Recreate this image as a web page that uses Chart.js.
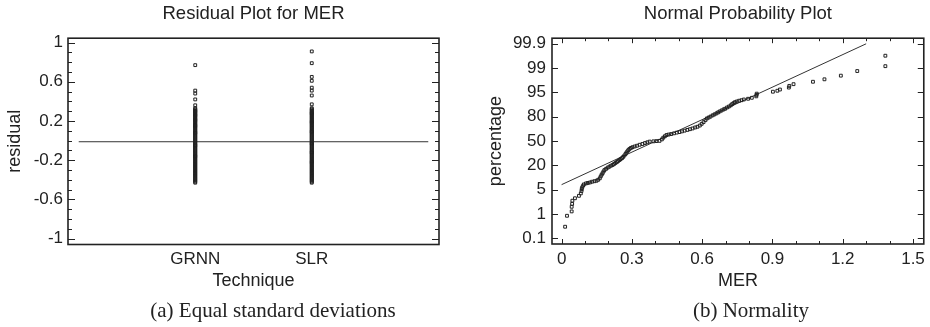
<!DOCTYPE html>
<html lang="en">
<head>
    <meta charset="UTF-8">
    <title>Residual and normal probability plots</title>
    <script src="https://cdn.jsdelivr.net/npm/chart.js"></script>
    <style>
        body {
            margin: 0;
            background-color: #fff;
            width: 930px;
            height: 327px;
            position: relative;
            overflow: hidden;
        }
        canvas {
            position: absolute;
            top: 0;
        }
        #residChart { left: 0; }
        #normChart { left: 465px; }
        .caption {
            position: absolute;
            top: 300px;
            font-family: 'Liberation Serif', 'Times New Roman', serif;
            font-size: 21px;
            line-height: 21px;
            color: #222;
            white-space: nowrap;
            transform: translateX(-50%);
        }
    </style>
</head>
<body>
    <canvas id="residChart" width="465" height="327"></canvas>
    <canvas id="normChart" width="465" height="327"></canvas>
    <div class="caption" style="left: 273px;">(a) Equal standard deviations</div>
    <div class="caption" style="left: 751px;">(b) Normality</div>

    <script>
        // (a) residuals per technique
        const techniques = ['GRNN', 'SLR'];
        const techniquePos = [1, 2];
        const grnnResidual = [0.77, 0.51, 0.48, 0.42, 0.36, 0.33, 0.32, 0.31, 0.30, 0.30, 0.29, 0.28, 0.27, 0.26,
            0.26, 0.25, 0.24, 0.23, 0.22, 0.21, 0.21, 0.20, 0.19, 0.18, 0.17, 0.16, 0.15, 0.15, 0.14, 0.13, 0.12,
            0.11, 0.10, 0.09, 0.08, 0.08, 0.07, 0.06, 0.05, 0.04, 0.03, 0.02, 0.01, 0.00, -0.01, -0.02, -0.03,
            -0.04, -0.05, -0.05, -0.06, -0.07, -0.08, -0.09, -0.10, -0.11, -0.12, -0.13, -0.14, -0.15, -0.16,
            -0.16, -0.17, -0.18, -0.19, -0.20, -0.21, -0.22, -0.23, -0.24, -0.25, -0.26, -0.27, -0.28, -0.29,
            -0.30, -0.31, -0.32, -0.33, -0.34, -0.35, -0.36, -0.37, -0.38, -0.39, -0.40, -0.41, -0.42, -0.43];
        const slrResidual = [0.91, 0.79, 0.65, 0.61, 0.54, 0.51, 0.46, 0.37, 0.33, 0.32, 0.31, 0.30, 0.29, 0.28,
            0.28, 0.27, 0.26, 0.25, 0.24, 0.23, 0.22, 0.21, 0.20, 0.19, 0.19, 0.18, 0.17, 0.16, 0.15, 0.14, 0.13,
            0.12, 0.11, 0.10, 0.09, 0.09, 0.08, 0.07, 0.06, 0.05, 0.04, 0.03, 0.02, 0.01, 0.00, -0.01, -0.02,
            -0.03, -0.03, -0.04, -0.05, -0.06, -0.07, -0.08, -0.09, -0.10, -0.11, -0.12, -0.12, -0.13, -0.14,
            -0.15, -0.16, -0.17, -0.18, -0.19, -0.20, -0.21, -0.22, -0.22, -0.23, -0.24, -0.25, -0.26, -0.27,
            -0.28, -0.29, -0.30, -0.31, -0.32, -0.33, -0.34, -0.35, -0.36, -0.37, -0.38, -0.39, -0.40, -0.41,
            -0.42, -0.43];
        const residLineX = [0, 3];
        const residLineY = -0.012;
        const residTicks = [-1, -0.6, -0.2, 0.2, 0.6, 1];

        // (b) normal probability plot: MER vs position on the probability axis
        const probLabels = ['0.1', '1', '5', '20', '50', '80', '95', '99', '99.9'];
        const merTicks = [0, 0.3, 0.6, 0.9, 1.2, 1.5];
        const merTickLabels = ['0', '0.3', '0.6', '0.9', '1.2', '1.5'];
        const merValues = [0.015, 0.023, 0.043, 0.043, 0.045, 0.046, 0.057, 0.074, 0.082, 0.085, 0.086, 0.088,
            0.092, 0.095, 0.104, 0.112, 0.121, 0.130, 0.140, 0.149, 0.156, 0.163, 0.167, 0.171, 0.175, 0.179,
            0.183, 0.190, 0.197, 0.204, 0.211, 0.218, 0.224, 0.230, 0.236, 0.241, 0.247, 0.252, 0.258, 0.263,
            0.268, 0.273, 0.277, 0.281, 0.285, 0.290, 0.296, 0.303, 0.312, 0.322, 0.333, 0.345, 0.356, 0.366,
            0.376, 0.392, 0.405, 0.418, 0.428, 0.434, 0.441, 0.448, 0.457, 0.468, 0.480, 0.492, 0.503, 0.514,
            0.525, 0.537, 0.548, 0.559, 0.570, 0.580, 0.590, 0.598, 0.606, 0.614, 0.620, 0.628, 0.636, 0.645,
            0.653, 0.661, 0.668, 0.675, 0.683, 0.691, 0.698, 0.706, 0.714, 0.722, 0.728, 0.734, 0.740, 0.748,
            0.758, 0.768, 0.778, 0.796, 0.812, 0.831, 0.832, 0.833, 0.902, 0.921, 0.932, 0.970, 0.972, 0.990,
            1.073, 1.122, 1.192, 1.262, 1.382, 1.382];
        const probScore = [0.48, 0.93, 1.11, 1.30, 1.42, 1.55, 1.65, 1.75, 1.85, 1.95, 2.03, 2.10,
            2.17, 2.22, 2.26, 2.28, 2.30, 2.33, 2.35, 2.37, 2.41, 2.47, 2.55, 2.62, 2.68, 2.75,
            2.81, 2.86, 2.91, 2.95, 2.99, 3.02, 3.06, 3.10, 3.14, 3.18, 3.22, 3.26, 3.30, 3.35,
            3.41, 3.47, 3.53, 3.58, 3.63, 3.68, 3.72, 3.75, 3.78, 3.81, 3.85, 3.88, 3.92, 3.95,
            3.98, 3.99, 4.00, 4.01, 4.07, 4.14, 4.20, 4.25, 4.27, 4.29, 4.32, 4.35, 4.37, 4.40,
            4.43, 4.46, 4.49, 4.52, 4.56, 4.59, 4.64, 4.71, 4.78, 4.86, 4.93, 4.97, 5.01, 5.06,
            5.10, 5.14, 5.18, 5.22, 5.26, 5.30, 5.33, 5.38, 5.42, 5.47, 5.52, 5.56, 5.60, 5.63,
            5.66, 5.68, 5.71, 5.74, 5.78, 5.84, 5.90, 5.95, 6.03, 6.07, 6.12, 6.20, 6.27, 6.34,
            6.44, 6.54, 6.69, 6.88, 7.08, 7.51];
        const fitLineX = [0, 1.30];
        const fitLineY = [2.21, 8.0];

        const sans = "'Liberation Sans', Arial, sans-serif";
        const ink = '#222';

        // frame round the plot area, with inward tick marks
        const frameTicks = {
            id: 'frameTicks',
            afterDatasetsDraw(chart, args, opts) {
                const { ctx, chartArea: a, scales } = chart;
                ctx.save();
                ctx.strokeStyle = ink;
                ctx.lineWidth = 1;
                ctx.beginPath();
                (opts.marks || []).forEach(m => {
                    const scale = scales[m.axis];
                    for (let v = m.from; v <= m.to + 1e-9; v += m.step) {
                        const p = Math.round(scale.getPixelForValue(v)) + 0.5;
                        if (m.side === 'left') { ctx.moveTo(a.left, p); ctx.lineTo(a.left + m.len, p); }
                        if (m.side === 'right') { ctx.moveTo(a.right, p); ctx.lineTo(a.right - m.len, p); }
                        if (m.side === 'top') { ctx.moveTo(p, a.top); ctx.lineTo(p, a.top + m.len); }
                        if (m.side === 'bottom') { ctx.moveTo(p, a.bottom); ctx.lineTo(p, a.bottom - m.len); }
                    }
                });
                ctx.stroke();
                ctx.lineWidth = 1.6;
                ctx.strokeRect(a.left, a.top, a.width, a.height);
                ctx.restore();
            }
        };

        const pointStyle = {
            pointStyle: 'rect',
            pointRadius: 2.0,
            pointBorderWidth: 1,
            pointBorderColor: ink,
            pointBackgroundColor: 'rgba(255,255,255,0)'
        };

        new Chart(document.getElementById('residChart'), {
            type: 'scatter',
            data: {
                datasets: [
                    Object.assign({ data: grnnResidual.map(v => ({ x: techniquePos[0], y: v })) }, pointStyle),
                    Object.assign({ data: slrResidual.map(v => ({ x: techniquePos[1], y: v })) }, pointStyle),
                    {
                        data: residLineX.map(x => ({ x: x, y: residLineY })),
                        showLine: true,
                        pointRadius: 0,
                        borderColor: '#333',
                        borderWidth: 1
                    }
                ]
            },
            options: {
                responsive: false,
                animation: false,
                layout: { padding: { left: 0, right: 26, top: 0, bottom: 35 } },
                plugins: {
                    legend: { display: false },
                    tooltip: { enabled: false },
                    title: {
                        display: true,
                        text: 'Residual Plot for MER',
                        fullSize: false,
                        color: ink,
                        font: { family: sans, size: 18.5, weight: 'normal' },
                        padding: { top: 3, bottom: 13 }
                    },
                    frameTicks: {
                        marks: [
                            { axis: 'y', side: 'left', from: -1, to: 1, step: 0.4, len: 7 },
                            { axis: 'y', side: 'left', from: -1, to: 1, step: 0.1, len: 4 },
                            { axis: 'y', side: 'right', from: -1, to: 1, step: 0.4, len: 7 },
                            { axis: 'y', side: 'right', from: -1, to: 1, step: 0.1, len: 4 }
                        ]
                    }
                },
                scales: {
                    x: {
                        type: 'linear',
                        min: -0.092,
                        max: 3.092,
                        grid: { display: false, drawTicks: false },
                        border: { display: false },
                        afterBuildTicks: s => { s.ticks = techniquePos.map(v => ({ value: v })); },
                        afterFit: s => { s.height = 47.5; },
                        ticks: {
                            autoSkip: false,
                            maxRotation: 0,
                            padding: 5,
                            color: ink,
                            font: { family: sans, size: 17 },
                            callback: (v, i) => techniques[i]
                        },
                        title: {
                            display: true,
                            text: 'Technique',
                            color: ink,
                            font: { family: sans, size: 18 },
                            padding: { top: 0, bottom: 0 }
                        }
                    },
                    y: {
                        min: -1.061,
                        max: 1.045,
                        grid: { display: false, drawTicks: false },
                        border: { display: false },
                        afterBuildTicks: s => { s.ticks = residTicks.map(v => ({ value: v })); },
                        afterFit: s => { s.width = 68; },
                        ticks: {
                            autoSkip: false,
                            padding: 5,
                            color: ink,
                            font: { family: sans, size: 17 },
                            callback: v => String(v)
                        },
                        title: {
                            display: true,
                            text: 'residual',
                            color: ink,
                            font: { family: sans, size: 18 },
                            padding: { top: 4, bottom: 0 }
                        }
                    }
                }
            },
            plugins: [frameTicks]
        });

        new Chart(document.getElementById('normChart'), {
            type: 'scatter',
            data: {
                datasets: [
                    Object.assign({ data: merValues.map((x, i) => ({ x: x, y: probScore[i] })) }, pointStyle),
                    {
                        data: fitLineX.map((x, i) => ({ x: x, y: fitLineY[i] })),
                        showLine: true,
                        pointRadius: 0,
                        borderColor: '#333',
                        borderWidth: 1
                    }
                ]
            },
            options: {
                responsive: false,
                animation: false,
                layout: { padding: { left: 0, right: 6, top: 0, bottom: 35 } },
                plugins: {
                    legend: { display: false },
                    tooltip: { enabled: false },
                    title: {
                        display: true,
                        text: 'Normal Probability Plot',
                        fullSize: false,
                        color: ink,
                        font: { family: sans, size: 18.5, weight: 'normal' },
                        padding: { top: 3, bottom: 13 }
                    },
                    frameTicks: {
                        marks: [
                            { axis: 'y', side: 'left', from: 0, to: 8, step: 1, len: 6 },
                            { axis: 'y', side: 'right', from: 0, to: 8, step: 1, len: 6 },
                            { axis: 'x', side: 'bottom', from: 0, to: 1.5, step: 0.3, len: 5 },
                            { axis: 'x', side: 'bottom', from: 0, to: 1.5, step: 0.1, len: 3 },
                            { axis: 'x', side: 'top', from: 0, to: 1.5, step: 0.3, len: 5 },
                            { axis: 'x', side: 'top', from: 0, to: 1.5, step: 0.1, len: 3 }
                        ]
                    }
                },
                scales: {
                    x: {
                        type: 'linear',
                        min: -0.041,
                        max: 1.546,
                        grid: { display: false, drawTicks: false },
                        border: { display: false },
                        afterBuildTicks: s => { s.ticks = merTicks.map(v => ({ value: v })); },
                        afterFit: s => { s.height = 48; },
                        ticks: {
                            autoSkip: false,
                            maxRotation: 0,
                            padding: 5,
                            color: ink,
                            font: { family: sans, size: 17 },
                            callback: (v, i) => merTickLabels[i]
                        },
                        title: {
                            display: true,
                            text: 'MER',
                            color: ink,
                            font: { family: sans, size: 18 },
                            padding: { top: 0, bottom: 0 }
                        }
                    },
                    y: {
                        min: -0.23,
                        max: 8.23,
                        grid: { display: false, drawTicks: false },
                        border: { display: false },
                        afterBuildTicks: s => { s.ticks = probLabels.map((t, i) => ({ value: i })); },
                        afterFit: s => { s.width = 87; },
                        ticks: {
                            autoSkip: false,
                            padding: 6,
                            color: ink,
                            font: { family: sans, size: 17 },
                            callback: (v, i) => probLabels[i]
                        },
                        title: {
                            display: true,
                            text: 'percentage',
                            color: ink,
                            font: { family: sans, size: 18 },
                            padding: { top: 20, bottom: 0 }
                        }
                    }
                }
            },
            plugins: [frameTicks]
        });
    </script>
</body>
</html>
